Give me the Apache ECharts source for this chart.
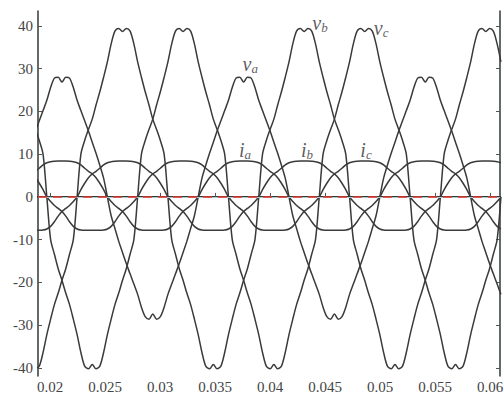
<!DOCTYPE html>
<html>
<head>
<meta charset="utf-8">
<script src="https://cdn.jsdelivr.net/npm/echarts@6/dist/echarts.min.js"></script>
<style>
  html, body { margin: 0; padding: 0; background: #fff; }
  #chart { width: 504px; height: 396px; }
</style>
</head>
<body>
<div id="chart"></div>
<script>
// sample times (s)
const time = [
  0.01868, 0.019024, 0.019368, 0.019712, 0.020056, 0.0204, 0.020744, 0.021088, 0.021432, 0.021776, 0.02212, 0.022464,
  0.022808, 0.023152, 0.023496, 0.02384, 0.024184, 0.024528, 0.024872, 0.025216, 0.02556, 0.025904, 0.026248, 0.026592,
  0.026936, 0.02728, 0.027624, 0.027968, 0.028312, 0.028656, 0.029, 0.029344, 0.029688, 0.030032, 0.030376, 0.03072,
  0.031064, 0.031408, 0.031752, 0.032096, 0.03244, 0.032784, 0.033128, 0.033472, 0.033816, 0.03416, 0.034504, 0.034848,
  0.035192, 0.035536, 0.03588, 0.036224, 0.036568, 0.036912, 0.037256, 0.0376, 0.037944, 0.038288, 0.038632, 0.038976,
  0.03932, 0.039664, 0.040008, 0.040352, 0.040696, 0.04104, 0.041384, 0.041728, 0.042072, 0.042416, 0.04276, 0.043104,
  0.043448, 0.043792, 0.044136, 0.04448, 0.044824, 0.045168, 0.045512, 0.045856, 0.0462, 0.046544, 0.046888, 0.047232,
  0.047576, 0.04792, 0.048264, 0.048608, 0.048952, 0.049296, 0.04964, 0.049984, 0.050328, 0.050672, 0.051016, 0.05136,
  0.051704, 0.052048, 0.052392, 0.052736, 0.05308, 0.053424, 0.053768, 0.054112, 0.054456, 0.0548, 0.055144, 0.055488,
  0.055832, 0.056176, 0.05652, 0.056864, 0.057208, 0.057552, 0.057896, 0.05824, 0.058584, 0.058928, 0.059272, 0.059616,
  0.05996, 0.060304, 0.060648, 0.060992
];

// phase voltages
const va = [
  15.4, 17.8, 20.2, 22.6, 25.6, 27.8, 28.0,
  26.9, 28.0, 27.8, 25.6, 22.6, 20.2, 17.8, 15.4, 12.8, 10.2, 7.4, 4.4,
  0, -4.4, -7.4, -10.4, -13.0, -15.6, -18.0, -20.4, -22.8, -25.8, -28.0, -28.6,
  -27.4, -28.6, -28.0, -25.8, -22.8, -20.4, -18.0, -15.6, -13.0, -10.4, -7.4, -4.4,
  0, 4.4, 7.4, 10.2, 12.8, 15.4, 17.8, 20.2, 22.6, 25.6, 27.8, 28.0,
  26.9, 28.0, 27.8, 25.6, 22.6, 20.2, 17.8, 15.4, 12.8, 10.2, 7.4, 4.4,
  0, -4.4, -7.4, -10.4, -13.0, -15.6, -18.0, -20.4, -22.8, -25.8, -28.0, -28.6,
  -27.4, -28.6, -28.0, -25.8, -22.8, -20.4, -18.0, -15.6, -13.0, -10.4, -7.4, -4.4,
  0, 4.4, 7.4, 10.2, 12.8, 15.4, 17.8, 20.2, 22.6, 25.6, 27.8, 28.0,
  26.9, 28.0, 27.8, 25.6, 22.6, 20.2, 17.8, 15.4, 12.8, 10.2, 7.4, 4.4,
  0, -4.4, -7.4, -10.4, -13.0, -15.6, -18.0, -20.4, -22.8
];
const vb = [
  -40.2, -39.6, -36.4, -32.2, -28.6, -25.2, -22.5, -19.5, -16.8, -13.4, -10.0,
  0, 10.0, 13.2, 15.8, 18.2, 21.5, 24.6, 28.0, 31.6, 35.8, 38.8, 39.4,
  38.7, 39.4, 38.8, 35.8, 31.6, 28.0, 24.6, 21.5, 18.2, 15.8, 13.2, 10.0,
  0, -10.0, -13.4, -16.8, -19.5, -22.5, -25.2, -28.6, -32.2, -36.4, -39.6, -40.2,
  -39.2, -40.2, -39.6, -36.4, -32.2, -28.6, -25.2, -22.5, -19.5, -16.8, -13.4, -10.0,
  0, 10.0, 13.2, 15.8, 18.2, 21.5, 24.6, 28.0, 31.6, 35.8, 38.8, 39.4,
  38.7, 39.4, 38.8, 35.8, 31.6, 28.0, 24.6, 21.5, 18.2, 15.8, 13.2, 10.0,
  0, -10.0, -13.4, -16.8, -19.5, -22.5, -25.2, -28.6, -32.2, -36.4, -39.6, -40.2,
  -39.2, -40.2, -39.6, -36.4, -32.2, -28.6, -25.2, -22.5, -19.5, -16.8, -13.4, -10.0,
  0, 10.0, 13.2, 15.8, 18.2, 21.5, 24.6, 28.0, 31.6, 35.8, 38.8, 39.4,
  38.7, 39.4, 38.8, 35.8, 31.6
];
const vc = [
  15.8, 13.2, 10.0,
  0, -10.0, -13.4, -16.8, -19.5, -22.5, -25.2, -28.6, -32.2, -36.4, -39.6, -40.2,
  -39.2, -40.2, -39.6, -36.4, -32.2, -28.6, -25.2, -22.5, -19.5, -16.8, -13.4, -10.0,
  0, 10.0, 13.2, 15.8, 18.2, 21.5, 24.6, 28.0, 31.6, 35.8, 38.8, 39.4,
  38.7, 39.4, 38.8, 35.8, 31.6, 28.0, 24.6, 21.5, 18.2, 15.8, 13.2, 10.0,
  0, -10.0, -13.4, -16.8, -19.5, -22.5, -25.2, -28.6, -32.2, -36.4, -39.6, -40.2,
  -39.2, -40.2, -39.6, -36.4, -32.2, -28.6, -25.2, -22.5, -19.5, -16.8, -13.4, -10.0,
  0, 10.0, 13.2, 15.8, 18.2, 21.5, 24.6, 28.0, 31.6, 35.8, 38.8, 39.4,
  38.7, 39.4, 38.8, 35.8, 31.6, 28.0, 24.6, 21.5, 18.2, 15.8, 13.2, 10.0,
  0, -10.0, -13.4, -16.8, -19.5, -22.5, -25.2, -28.6, -32.2, -36.4, -39.6, -40.2,
  -39.2, -40.2, -39.6, -36.4, -32.2, -28.6, -25.2, -22.5, -19.5, -16.8, -13.4, -10.0,
  0
];

// phase currents
const ia = [
  6.0, 6.7, 7.5, 8.0, 8.25, 8.35, 8.4,
  8.4, 8.4, 8.35, 8.25, 8.0, 7.5, 6.7, 6.0, 5.4, 4.5, 3.2, 1.7,
  0, -1.1, -2.0, -2.7, -3.4, -4.5, -5.8, -6.9, -7.5, -7.75, -7.8, -7.8,
  -7.8, -7.8, -7.8, -7.75, -7.5, -6.9, -5.8, -4.5, -3.4, -2.7, -2.0, -1.1,
  0, 1.7, 3.2, 4.5, 5.4, 6.0, 6.7, 7.5, 8.0, 8.25, 8.35, 8.4,
  8.4, 8.4, 8.35, 8.25, 8.0, 7.5, 6.7, 6.0, 5.4, 4.5, 3.2, 1.7,
  0, -1.1, -2.0, -2.7, -3.4, -4.5, -5.8, -6.9, -7.5, -7.75, -7.8, -7.8,
  -7.8, -7.8, -7.8, -7.75, -7.5, -6.9, -5.8, -4.5, -3.4, -2.7, -2.0, -1.1,
  0, 1.7, 3.2, 4.5, 5.4, 6.0, 6.7, 7.5, 8.0, 8.25, 8.35, 8.4,
  8.4, 8.4, 8.35, 8.25, 8.0, 7.5, 6.7, 6.0, 5.4, 4.5, 3.2, 1.7,
  0, -1.1, -2.0, -2.7, -3.4, -4.5, -5.8, -6.9, -7.5
];
const ib = [
  -7.8, -7.8, -7.75, -7.5, -6.9, -5.8, -4.5, -3.4, -2.7, -2.0, -1.1,
  0, 1.7, 3.2, 4.5, 5.4, 6.0, 6.7, 7.5, 8.0, 8.25, 8.35, 8.4,
  8.4, 8.4, 8.35, 8.25, 8.0, 7.5, 6.7, 6.0, 5.4, 4.5, 3.2, 1.7,
  0, -1.1, -2.0, -2.7, -3.4, -4.5, -5.8, -6.9, -7.5, -7.75, -7.8, -7.8,
  -7.8, -7.8, -7.8, -7.75, -7.5, -6.9, -5.8, -4.5, -3.4, -2.7, -2.0, -1.1,
  0, 1.7, 3.2, 4.5, 5.4, 6.0, 6.7, 7.5, 8.0, 8.25, 8.35, 8.4,
  8.4, 8.4, 8.35, 8.25, 8.0, 7.5, 6.7, 6.0, 5.4, 4.5, 3.2, 1.7,
  0, -1.1, -2.0, -2.7, -3.4, -4.5, -5.8, -6.9, -7.5, -7.75, -7.8, -7.8,
  -7.8, -7.8, -7.8, -7.75, -7.5, -6.9, -5.8, -4.5, -3.4, -2.7, -2.0, -1.1,
  0, 1.7, 3.2, 4.5, 5.4, 6.0, 6.7, 7.5, 8.0, 8.25, 8.35, 8.4,
  8.4, 8.4, 8.35, 8.25, 8.0
];
const ic = [
  4.5, 3.2, 1.7,
  0, -1.1, -2.0, -2.7, -3.4, -4.5, -5.8, -6.9, -7.5, -7.75, -7.8, -7.8,
  -7.8, -7.8, -7.8, -7.75, -7.5, -6.9, -5.8, -4.5, -3.4, -2.7, -2.0, -1.1,
  0, 1.7, 3.2, 4.5, 5.4, 6.0, 6.7, 7.5, 8.0, 8.25, 8.35, 8.4,
  8.4, 8.4, 8.35, 8.25, 8.0, 7.5, 6.7, 6.0, 5.4, 4.5, 3.2, 1.7,
  0, -1.1, -2.0, -2.7, -3.4, -4.5, -5.8, -6.9, -7.5, -7.75, -7.8, -7.8,
  -7.8, -7.8, -7.8, -7.75, -7.5, -6.9, -5.8, -4.5, -3.4, -2.7, -2.0, -1.1,
  0, 1.7, 3.2, 4.5, 5.4, 6.0, 6.7, 7.5, 8.0, 8.25, 8.35, 8.4,
  8.4, 8.4, 8.35, 8.25, 8.0, 7.5, 6.7, 6.0, 5.4, 4.5, 3.2, 1.7,
  0, -1.1, -2.0, -2.7, -3.4, -4.5, -5.8, -6.9, -7.5, -7.75, -7.8, -7.8,
  -7.8, -7.8, -7.8, -7.75, -7.5, -6.9, -5.8, -4.5, -3.4, -2.7, -2.0, -1.1,
  0
];

const xTicks = [0.02, 0.025, 0.03, 0.035, 0.04, 0.045, 0.05, 0.055, 0.06];
const yTicks = [-40, -30, -20, -10, 0, 10, 20, 30, 40];

// curve annotations (letter, subscript, anchor in data units)
const labelLetters = ['v', 'v', 'v', 'i', 'i', 'i'];
const labelSubs = ['a', 'b', 'c', 'a', 'b', 'c'];
const labelTimes = [0.0382, 0.04455, 0.0501, 0.03773, 0.04336, 0.04873];
const labelValues = [31.1, 40.7, 39.5, 10.9, 10.9, 10.9];

const chart = echarts.init(document.getElementById('chart'), null, { renderer: 'svg' });

const serif = "'Liberation Serif', 'Times New Roman', serif";
const ink = '#3a3a3a';
const pair = (ys) => time.map((t, i) => [t, ys[i]]);

const wave = (name, ys) => ({
  name,
  type: 'line',
  data: pair(ys),
  showSymbol: false,
  smooth: 0.3,
  lineStyle: { color: ink, width: 1.5 },
  silent: true,
  z: 2,
});

const options = {
  animation: false,
  backgroundColor: '#fff',
  grid: { left: 38, right: 4, top: 11, bottom: 20, outerBoundsMode: 'none' },
  xAxis: [
    {
      type: 'value',
      min: 0.018909,
      max: 0.060909,
      axisLine: { lineStyle: { color: '#2f3a33', width: 2 } },
      axisTick: { inside: true, length: 4, customValues: xTicks, lineStyle: { color: '#555' } },
      axisLabel: { customValues: xTicks, margin: 3, fontFamily: serif, fontSize: 15, color: '#444' },
      splitLine: { show: false },
    },
    {
      type: 'value',
      position: 'top',
      min: 0.018909,
      max: 0.060909,
      axisLine: { show: true, lineStyle: { color: '#2f3a33', width: 2 } },
      axisTick: { show: false },
      axisLabel: { show: false },
      splitLine: { show: false },
    },
  ],
  yAxis: [
    {
      type: 'value',
      min: -41.9,
      max: 43.5,
      axisLine: { show: true, lineStyle: { color: '#2f3a33', width: 1.5 } },
      axisTick: { show: true, inside: true, length: 4, customValues: yTicks, lineStyle: { color: '#555' } },
      axisLabel: { customValues: yTicks, margin: 5, fontFamily: serif, fontSize: 15, color: '#444' },
      splitLine: { show: false },
    },
    {
      type: 'value',
      position: 'right',
      min: -41.9,
      max: 43.5,
      axisLine: { show: true, lineStyle: { color: '#2f3a33', width: 1.5 } },
      axisTick: { show: true, inside: true, length: 4, customValues: yTicks, lineStyle: { color: '#555' } },
      axisLabel: { show: false },
      splitLine: { show: false },
    },
  ],
  series: [
    wave('va', va),
    wave('vb', vb),
    wave('vc', vc),
    wave('ia', ia),
    wave('ib', ib),
    wave('ic', ic),
    {
      name: 'zero',
      type: 'line',
      data: [],
      z: 10,
      markLine: {
        silent: true,
        symbol: 'none',
        z: 10,
        label: { show: false },
        data: [
          { yAxis: 0, lineStyle: { color: '#a9cbd8', width: 1, type: 'solid' } },
          { yAxis: 0, lineStyle: { color: '#e2362c', width: 1.5, type: [9, 6] } },
        ],
      },
    },
    {
      name: 'labels',
      type: 'scatter',
      symbolSize: 0,
      silent: true,
      z: 11,
      data: labelTimes.map((t, i) => [t, labelValues[i], labelLetters[i], labelSubs[i]]),
      label: {
        show: true,
        position: 'inside',
        formatter: (p) => '{m|' + p.data[2] + '}{s|' + p.data[3] + '}',
        rich: {
          m: { fontFamily: serif, fontStyle: 'italic', fontSize: 20, color: '#333', lineHeight: 22, verticalAlign: 'middle' },
          s: { fontFamily: serif, fontStyle: 'italic', fontSize: 13, color: '#333', lineHeight: 22, verticalAlign: 'bottom', padding: [7, 0, 0, 0] },
        },
      },
    },
  ],
};

chart.setOption(options);
</script>
</body>
</html>
